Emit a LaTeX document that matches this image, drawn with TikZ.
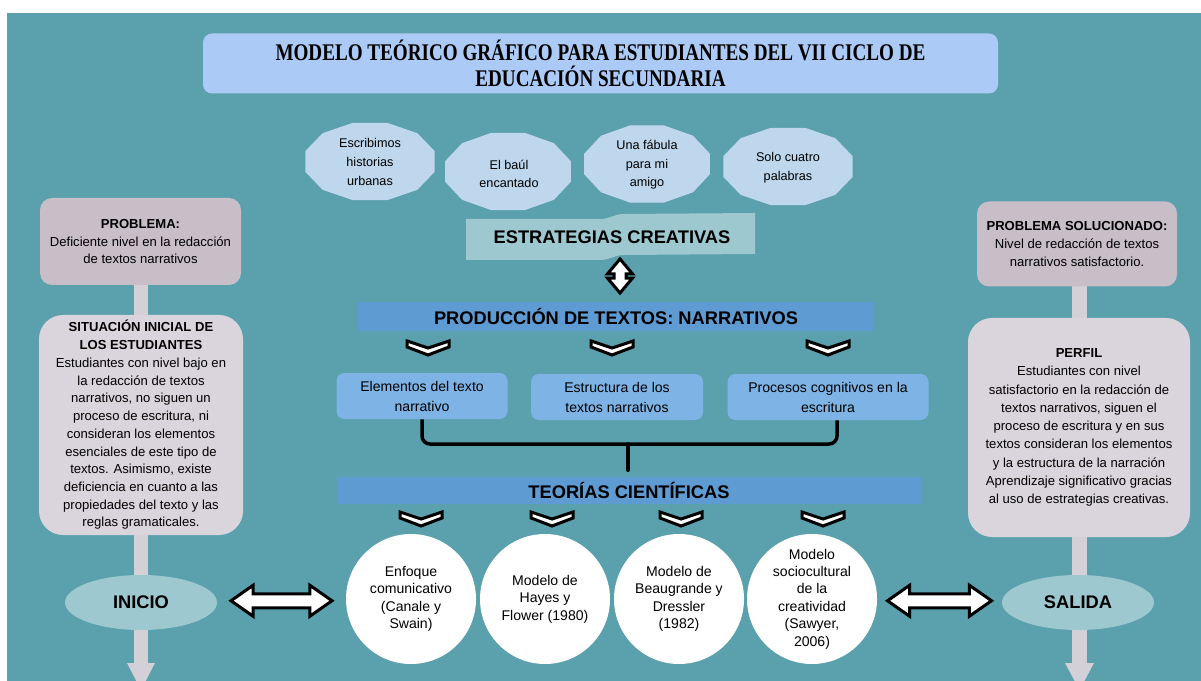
\documentclass[tikz,border=0pt]{standalone}
\usepackage{fontspec}
\setmainfont{Liberation Sans}
\newfontfamily\titlefont[FakeStretch=0.8]{Liberation Serif}
\usetikzlibrary{positioning,calc,shapes.geometric,shapes.arrows}
\definecolor{mtTeal}{RGB}{91,161,173}
\definecolor{mtTitle}{RGB}{171,202,245}
\definecolor{mtBubble}{RGB}{190,215,236}
\definecolor{mtBanner}{RGB}{157,200,207}
\definecolor{mtBar}{RGB}{94,155,211}
\definecolor{mtBox}{RGB}{126,179,230}
\definecolor{mtMauve}{RGB}{199,190,200}
\definecolor{mtLight}{RGB}{218,213,220}
\definecolor{mtPillar}{RGB}{212,208,216}
\newdimen\pxu \pxu=0.025cm

\begin{document}
\begin{tikzpicture}[x=0.025cm, y=-0.025cm,
  greybox/.style={fill=mtMauve, rounded corners=12\pxu, align=center, font=\fontsize{9.3}{12.6}\selectfont},
  paleBox/.style={fill=mtLight, rounded corners=24\pxu, align=center, font=\fontsize{9.3}{12.6}\selectfont},
  bubbleText/.style={align=center, font=\fontsize{9}{13.2}\selectfont},
  bar/.style={fill=mtBar, inner sep=0pt, font=\bfseries\fontsize{13}{15}\selectfont},
  topicBox/.style={fill=mtBox, rounded corners=8\pxu, minimum height=46\pxu, align=center, font=\fontsize{10}{14.2}\selectfont},
  theory/.style={circle, fill=white, minimum size=130\pxu, inner sep=0pt, align=center, font=\fontsize{10}{12.4}\selectfont},
  stage/.style={ellipse, fill=mtBanner, minimum width=152\pxu, minimum height=55\pxu, font=\bfseries\fontsize{13}{15}\selectfont},
  chevron/.style={fill=white, draw=black, line width=3\pxu, line join=miter},
  blockArrow/.style={double arrow, fill=white, draw=black, line width=3\pxu, inner sep=5.5\pxu, double arrow head extend=8.5\pxu, double arrow tip angle=70},
  bracket/.style={draw=black, line width=3.5\pxu, rounded corners=8\pxu}
]
  \useasboundingbox (0,0) rectangle (1201,681);
  \fill[white] (0,0) rectangle (1201,681);
  \fill[mtTeal] (7,13) rectangle (1201,681);

  % Side pillars
  \fill[mtPillar] (134,240) rectangle (148,665);
  \fill[mtPillar] (127,663) -- (155,663) -- (141,690) -- cycle;
  \fill[mtPillar] (1072,240) rectangle (1087,665);
  \fill[mtPillar] (1065,663) -- (1094,663) -- (1079.5,690) -- cycle;

  % Title
  \node[fill=mtTitle, rounded corners=9\pxu, minimum width=795\pxu, minimum height=60\pxu, align=center,
        font=\titlefont\bfseries\fontsize{17}{18.5}\selectfont] (title) at (600.5,63.5)
        {MODELO TEÓRICO GRÁFICO PARA ESTUDIANTES DEL VII CICLO DE\\EDUCACIÓN SECUNDARIA};

  % Strategy bubbles
  \foreach \cx/\cy/\rx/\ry in {370/161.5/67/40, 508/171.5/65/40, 647/164/65/40, 788/166.5/67/40}
    \fill[mtBubble] plot[samples=13, domain=15:375] ({\cx+\rx*cos(\x)}, {\cy+\ry*sin(\x)});
  \node[bubbleText] (s1) at (370,162) {Escribimos\\historias\\urbanas};
  \node[bubbleText] (s2) at (509,174) {El baúl\\encantado};
  \node[bubbleText] (s3) at (647,165) {Una fábula\\para mi\\amigo};
  \node[bubbleText] (s4) at (788,167.5) {Solo cuatro\\palabras};

  % Banner
  \fill[mtBanner] (466,219) -- (600,219) .. controls (610,219) and (614,214) .. (624,214) -- (755,213)
    -- (755,254) -- (624,255) .. controls (614,255) and (610,260) .. (600,260) -- (466,260) -- cycle;
  \node[font=\bfseries\fontsize{13}{15}\selectfont] (strat) at (612,237) {ESTRATEGIAS CREATIVAS};
  \node[blockArrow, rotate=90, minimum height=34\pxu, inner sep=4.5\pxu, double arrow head extend=6.5\pxu,
        double arrow tip angle=80] (link) at (620,276) {};

  % Production bar and topics
  \node[bar, minimum width=516\pxu, minimum height=29\pxu] (prod) at (616,316.5) {PRODUCCIÓN DE TEXTOS: NARRATIVOS};
  \foreach \cx in {428,612,828}
    \filldraw[chevron] (\cx-21,341) -- (\cx,348) -- (\cx+21,341) -- (\cx+21,347) -- (\cx,355) -- (\cx-21,347) -- cycle;
  \node[topicBox, minimum width=171\pxu] (e1) at (422,396) {Elementos del texto\\narrativo};
  \node[topicBox, minimum width=172\pxu] (e2) at (617,397) {Estructura de los\\textos narrativos};
  \node[topicBox, minimum width=201\pxu] (e3) at (828,397) {Procesos cognitivos en la\\escritura};

  % Theories bar
  \node[bar, minimum width=584\pxu, minimum height=27\pxu] (tc) at (629,490) {TEORÍAS CIENTÍFICAS};
  \coordinate (bj) at (628,444);
  \draw[bracket] (e1.south) |- (bj) -| ([xshift=9\pxu]e3.south);
  \draw[bracket, line cap=round, shorten >=6\pxu] (bj) -- (bj |- tc.north);
  \foreach \cx in {421,552,681,823}
    \filldraw[chevron] (\cx-21,512) -- (\cx,519) -- (\cx+21,512) -- (\cx+21,518) -- (\cx,526) -- (\cx-21,518) -- cycle;

  % Theory circles
  \node[theory] (c1) at (411,599) {Enfoque\\comunicativo\\(Canale y\\Swain)};
  \node[theory] (c2) at (545,599) {Modelo de\\Hayes y\\Flower (1980)};
  \node[theory] (c3) at (679,599) {Modelo de\\Beaugrande y\\Dressler\\(1982)};
  \node[theory] (c4) at (812,599) {Modelo\\sociocultural\\de la\\creatividad\\(Sawyer,\\2006)};

  % Left side
  \node[greybox, minimum width=201\pxu, minimum height=87\pxu] (prob) at (140.5,241.5)
    {\textbf{PROBLEMA:}\\Deficiente nivel en la redacción\\de textos narrativos};
  \node[paleBox, minimum width=204\pxu, minimum height=220\pxu] (init) at (141,425)
    {\textbf{SITUACIÓN INICIAL DE}\\\textbf{LOS ESTUDIANTES}\\Estudiantes con nivel bajo en\\la redacción de textos\\narrativos, no siguen un\\proceso de escritura, ni\\consideran los elementos\\esenciales de este tipo de\\textos. Asimismo, existe\\deficiencia en cuanto a las\\propiedades del texto y las\\reglas gramaticales.};
  \node[stage] (ini) at (141,602.5) {INICIO};

  % Right side
  \node[greybox, minimum width=200\pxu, minimum height=85\pxu] (solved) at (1077,244)
    {\textbf{PROBLEMA SOLUCIONADO:}\\Nivel de redacción de textos\\narrativos satisfactorio.};
  \node[paleBox, minimum width=222\pxu, minimum height=219\pxu, font=\fontsize{9.3}{13}\selectfont] (perfil) at (1079,427.5)
    {\textbf{PERFIL}\\Estudiantes con nivel\\satisfactorio en la redacción de\\textos narrativos, siguen el\\proceso de escritura y en sus\\textos consideran los elementos\\y la estructura de la narración\\Aprendizaje significativo gracias\\al uso de estrategias creativas.};
  \node[stage] (sal) at (1078,602.5) {SALIDA};

  % Links to the theories
  \node[blockArrow, minimum height=101\pxu] (la) at ($(ini.east)!0.5!(c1.west)$) {};
  \node[blockArrow, minimum height=104\pxu] (ra) at ($(c4.east)!0.5!(sal.west)$) {};
\end{tikzpicture}
\end{document}
